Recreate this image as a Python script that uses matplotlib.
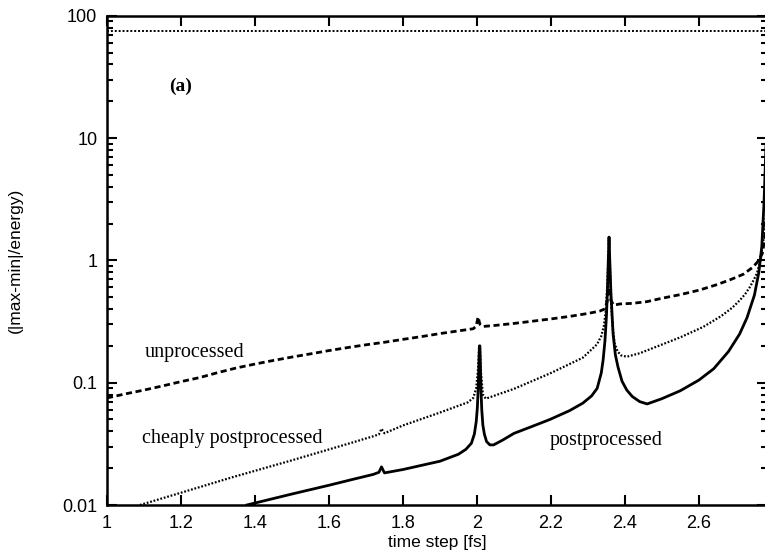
import matplotlib
matplotlib.use("Agg")
import matplotlib.pyplot as plt
from matplotlib.ticker import LogLocator, NullFormatter, FixedLocator

# --- data -------------------------------------------------------------
x_ticks = [1.0, 1.2, 1.4, 1.6, 1.8, 2.0, 2.2, 2.4, 2.6]
x_tick_labels = ["1", "1.2", "1.4", "1.6", "1.8", "2", "2.2", "2.4", "2.6"]
y_ticks = [0.01, 0.1, 1, 10, 100]
y_tick_labels = ["0.01", "0.1", "1", "10", "100"]

# unprocessed (dashed)
unproc_x = [1.0, 1.05, 1.1, 1.15, 1.2, 1.25, 1.3, 1.35, 1.4, 1.45, 1.5, 1.55,
            1.6, 1.657, 1.7, 1.75, 1.8, 1.85, 1.9, 1.95, 1.99, 1.998, 2.003,
            2.008, 2.016, 2.05, 2.1, 2.15, 2.2, 2.25, 2.3, 2.332, 2.345,
            2.352, 2.357, 2.362, 2.37, 2.386, 2.42, 2.46, 2.5, 2.55, 2.6,
            2.65, 2.69, 2.72, 2.746, 2.762, 2.772, 2.779, 2.784]
unproc_y = [0.075, 0.081, 0.087, 0.094, 0.102, 0.110, 0.121, 0.132, 0.142,
            0.152, 0.162, 0.172, 0.183, 0.195, 0.204, 0.214, 0.226, 0.238,
            0.252, 0.265, 0.276, 0.290, 0.345, 0.300, 0.288, 0.294, 0.305,
            0.318, 0.332, 0.348, 0.368, 0.385, 0.400, 0.460, 0.600, 0.470,
            0.430, 0.440, 0.445, 0.460, 0.490, 0.525, 0.570, 0.635, 0.705,
            0.770, 0.880, 1.000, 1.150, 1.600, 2.500]

# cheaply postprocessed (dotted)
cheap_x = [1.089, 1.2, 1.34, 1.5, 1.657, 1.72, 1.735, 1.742, 1.75, 1.8, 1.9,
           1.975, 1.99, 1.998, 2.003, 2.006, 2.008, 2.011, 2.016, 2.024, 2.1,
           2.2, 2.286, 2.324, 2.336, 2.343, 2.348, 2.352, 2.355, 2.357,
           2.359, 2.362, 2.366, 2.372, 2.38, 2.39, 2.405, 2.44, 2.5, 2.55,
           2.611, 2.66, 2.69, 2.71, 2.725, 2.738, 2.748, 2.757, 2.768,
           2.776, 2.784]
cheap_y = [0.010, 0.0126, 0.0169, 0.0232, 0.032, 0.0365, 0.0378, 0.042,
           0.0386, 0.0447, 0.057, 0.069, 0.075, 0.090, 0.130, 0.195, 0.190,
           0.120, 0.080, 0.074, 0.089, 0.120, 0.160, 0.205, 0.240, 0.290,
           0.380, 0.600, 1.000, 1.550, 1.000, 0.500, 0.300, 0.210, 0.180,
           0.167, 0.163, 0.174, 0.205, 0.235, 0.285, 0.350, 0.410, 0.470,
           0.530, 0.607, 0.690, 0.785, 1.060, 1.600, 3.000]

# postprocessed (solid)
post_x = [1.378, 1.5, 1.6, 1.657, 1.72, 1.735, 1.742, 1.75, 1.8, 1.9, 1.95,
          1.97, 1.985, 1.993, 1.998, 2.001, 2.003, 2.005, 2.0065, 2.008,
          2.0095, 2.011, 2.013, 2.016, 2.02, 2.026, 2.035, 2.045, 2.07, 2.1,
          2.15, 2.197, 2.25, 2.286, 2.31, 2.325, 2.336, 2.341, 2.346, 2.35,
          2.353, 2.355, 2.357, 2.359, 2.362, 2.368, 2.374, 2.381, 2.392,
          2.405, 2.42, 2.44, 2.46, 2.5, 2.55, 2.6, 2.64, 2.68, 2.71, 2.73,
          2.75, 2.762, 2.77, 2.776, 2.784]
post_y = [0.010, 0.0123, 0.0145, 0.016, 0.0178, 0.0185, 0.0205, 0.0183,
          0.0195, 0.0228, 0.026, 0.0285, 0.032, 0.038, 0.048, 0.062, 0.085,
          0.130, 0.200, 0.200, 0.130, 0.085, 0.060, 0.045, 0.038, 0.033,
          0.031, 0.031, 0.034, 0.0385, 0.044, 0.050, 0.059, 0.068, 0.078,
          0.090, 0.120, 0.153, 0.220, 0.350, 0.600, 1.000, 1.550, 1.000,
          0.550, 0.250, 0.170, 0.135, 0.103, 0.087, 0.077, 0.070, 0.067,
          0.074, 0.086, 0.105, 0.130, 0.180, 0.250, 0.340, 0.520, 0.800,
          1.300, 3.000, 15.0]

# upper reference level
top_x = [1.0, 2.784]
top_y = [75.0, 75.0]

# --- figure -----------------------------------------------------------
fig = plt.figure(figsize=(7.65, 5.5), dpi=100)
ax = fig.add_axes([107 / 765, 1 - 505 / 550, 660 / 765, (505 - 15.7) / 550])

ax.plot(top_x, top_y, color="black", lw=1.4, ls=(0, (1, 1)))
ax.plot(unproc_x, unproc_y, color="black", lw=2.0, ls=(0, (2.2, 1.3)))
ax.plot(cheap_x, cheap_y, color="black", lw=1.6, ls=(0, (0.8, 0.8)))
ax.plot(post_x, post_y, color="black", lw=2.0, ls="-")

ax.set_yscale("log")
ax.set_xlim(1.0, 2.784)
ax.set_ylim(0.01, 100)

ax.xaxis.set_major_locator(FixedLocator(x_ticks))
ax.set_xticklabels(x_tick_labels)
ax.set_yticks(y_ticks)
ax.set_yticklabels(y_tick_labels)
ax.yaxis.set_minor_locator(LogLocator(base=10, subs=range(2, 10)))
ax.yaxis.set_minor_formatter(NullFormatter())

ax.tick_params(which="both", direction="in", top=True, right=True,
               labelsize=13, width=1.5)
ax.tick_params(which="major", length=7, pad=7)
ax.tick_params(which="minor", length=4)
for lbl in ax.get_xticklabels() + ax.get_yticklabels():
    lbl.set_family("Liberation Sans")
for sp in ax.spines.values():
    sp.set_linewidth(1.8)

ax.set_xlabel("time step [fs]", family="Liberation Sans", fontsize=12.5,
              labelpad=2)
ax.set_ylabel("(|max-min|/energy)", family="Liberation Sans", fontsize=12.5,
              labelpad=28)

serif = "Liberation Serif"
ax.text(1.2, 26.6, "(a)", family=serif, fontsize=14, fontweight="bold",
        ha="center", va="center")
ax.text(1.103, 0.175, "unprocessed", family=serif, fontsize=14.5,
        ha="left", va="center")
ax.text(1.095, 0.0352, "cheaply postprocessed", family=serif, fontsize=14.5,
        ha="left", va="center")
ax.text(2.197, 0.0337, "postprocessed", family=serif, fontsize=14.5,
        ha="left", va="center")

fig.savefig("out.png", dpi=100)
